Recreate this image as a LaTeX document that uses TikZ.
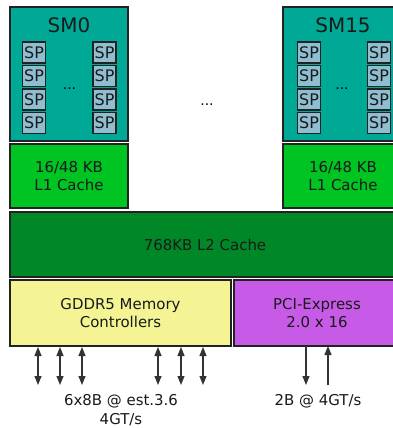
\documentclass[tikz,border=0pt]{standalone}
\usepackage{fontspec}
\setmainfont{DejaVu Sans}
\usetikzlibrary{arrows.meta}

\definecolor{smteal}{RGB}{0,168,150}
\definecolor{spblue}{RGB}{143,190,208}
\definecolor{lonegreen}{RGB}{0,196,34}
\definecolor{ltwogreen}{RGB}{0,136,40}
\definecolor{memyellow}{RGB}{244,244,148}
\definecolor{pcipurple}{RGB}{200,90,232}
\definecolor{edge}{RGB}{34,34,34}

\tikzset{
  unit/.style={draw=edge, line width=1.5bp, inner sep=0pt, outer sep=0pt, anchor=north west},
  spbox/.style={unit, fill=spblue, line width=1.2bp, minimum width=23bp, minimum height=21bp},
  sptext/.style={font=\fontsize{16}{16}\selectfont, inner sep=0pt, text=black!90},
  label/.style={font=\fontsize{15}{18.5}\selectfont, align=center, inner sep=0pt, text=black!90},
  smlabel/.style={font=\fontsize{20}{20}\selectfont, inner sep=0pt, text=black!90},
  dots/.style={font=\fontsize{14}{14}\selectfont, inner sep=0pt, anchor=base},
  bus/.style={draw=black!80, line width=1.2bp, -{Triangle[length=9bp,width=7bp]}},
  busboth/.style={draw=black!80, line width=1.2bp, {Triangle[length=9bp,width=7bp]}-{Triangle[length=9bp,width=7bp]}},
}

\begin{document}
\begin{tikzpicture}[x=1bp, y=-1bp]
  \useasboundingbox (0,0) rectangle (393,428);
  \clip (0,0) rectangle (393,428);

  % streaming multiprocessors
  \node[unit, fill=smteal, minimum width=118bp, minimum height=134bp] (sm0) at (10,7) {};
  \node[unit, fill=smteal, minimum width=120bp, minimum height=134bp] (sm15) at (283,7) {};
  \node[smlabel] (sm0t) at (69,25) {SM0};
  \node[smlabel] (sm15t) at (343,25) {SM15};

  % SP cores
  \foreach \r/\y in {1/42,2/65.5,3/89,4/112.5} {
    \node[spbox] (a\r) at (22.5,\y) {};
    \node[sptext] at (a\r.center) {SP};
    \node[spbox] (b\r) at (93,\y) {};
    \node[sptext] at (b\r.center) {SP};
    \node[spbox] (c\r) at (297.5,\y) {};
    \node[sptext] at (c\r.center) {SP};
    \node[spbox] (d\r) at (367.5,\y) {};
    \node[sptext] at (d\r.center) {SP};
  }
  \node[dots] (dots0) at (69.5,89) {...};
  \node[dots] (dots15) at (342,89) {...};
  \node[dots] (dotsmid) at (207,105) {...};

  % L1 caches
  \node[unit, fill=lonegreen, minimum width=118bp, minimum height=64bp] (l1a) at (10,144) {};
  \node[label] at (l1a.center) {16/48 KB\\L1 Cache};
  \node[unit, fill=lonegreen, minimum width=120bp, minimum height=64bp] (l1b) at (283,144) {};
  \node[label] at (l1b.center) {16/48 KB\\L1 Cache};

  % L2 cache
  \node[unit, fill=ltwogreen, minimum width=400bp, minimum height=65bp] (l2) at (10,212) {};
  \node[label] at (205,244.5) {768KB L2 Cache};

  % memory controllers and PCI-Express
  \node[unit, fill=memyellow, minimum width=221bp, minimum height=66bp] (mem) at (10,280) {};
  \node[label] at (mem.center) {GDDR5 Memory\\Controllers};
  \node[unit, fill=pcipurple, minimum width=170bp, minimum height=66bp] (pci) at (234,280) {};
  \node[label] at (317,313) {PCI-Express\\2.0 x 16};

  % memory buses
  \foreach \i/\x in {1/38,2/60,3/82,4/158,5/181,6/203} {
    \coordinate (m\i) at (\x,385);
    \draw[busboth] (mem.south -| m\i) ++(0,1) -- (m\i);
  }
  \node[label] (memrate) at (121,410) {6x8B @ est.3.6\\4GT/s};

  % PCI-Express links
  \coordinate (pdown) at (306,385);
  \coordinate (pup) at (328,385);
  \draw[bus] (pci.south -| pdown) -- (pdown);
  \draw[bus] (pup) -- (pci.south -| pup);
  \node[label] (pcirate) at (318,401) {2B @ 4GT/s};
\end{tikzpicture}
\end{document}
